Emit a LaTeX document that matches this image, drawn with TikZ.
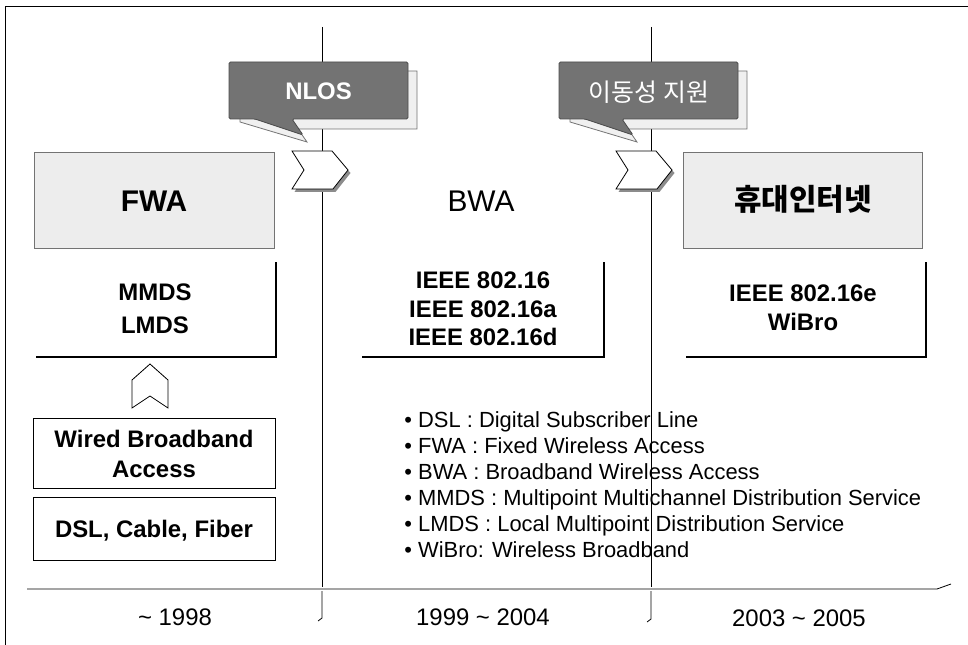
\documentclass[tikz,border=0pt]{standalone}
\usepackage{fontspec}
\setmainfont{Liberation Sans}
\newfontfamily\kr{Noto Sans CJK KR}
\newcommand\mycallout[1]{%
  \begin{scope}[shift={(#1,0)}]
    \draw[draw=black!55, fill=black!6] (240,71) -- (417,71) -- (417,129) -- (298,129) -- (307,142) -- (240,122) -- cycle;
    \draw[draw=black!70, fill=black!55, rounded corners=1.5bp] (229,62) -- (408,62) -- (408,119) -- (292,119) -- (303,135) -- (255,119) -- (229,119) -- cycle;
  \end{scope}}
\newcommand\mychev[2]{%
  \begin{scope}[shift={(#1,#2)}]
    \fill[black!45] (2.5,3) -- (42.5,3) -- (58.5,22) -- (43.5,41) -- (2.5,41) -- (14.5,22) -- cycle;
    \draw[fill=white] (0,0) -- (40,0) -- (56,19) -- (41,38) -- (0,38) -- (12,19) -- cycle;
  \end{scope}}
\begin{document}
\begin{tikzpicture}[x=1bp,y=-1bp,line width=0.8bp,
  lbl/.style={inner sep=0pt, anchor=base},
  btxt/.style={lbl, font=\fontsize{24}{28}\selectfont\bfseries},
  yr/.style={lbl, font=\fontsize{24}{28}\selectfont},
  legend/.style={inner sep=0pt, anchor=base west, font=\fontsize{22}{26}\selectfont},
  big/.style={lbl, font=\fontsize{30}{34}\selectfont},
  era/.style={draw=black!55, fill=black!7, inner sep=0pt, minimum height=96bp},
  plain/.style={draw=black, inner sep=0pt, minimum width=242bp}]
\useasboundingbox (0,0) rectangle (968,645);
% legend
\foreach \t [count=\i] in {{DSL : Digital Subscriber Line},{FWA : Fixed Wireless Access},{BWA : Broadband Wireless Access},{MMDS : Multipoint Multichannel Distribution Service},{LMDS : Local Multipoint Distribution Service},{WiBro: Wireless Broadband}}
  \node[legend] (leg\i) at (404,{427+26.1*(\i-1)}) {•\ \t};
% frame
\draw[line width=1bp] (5,645) -- (5,7) -- (968,7);
% timeline lines
\draw (322,27) -- (322,587);
\draw (651,27) -- (651,587);
\draw (322,591) -- (322,618) -- (318,621);
\draw (651,591) -- (651,619) -- (647,622);
\draw (27,589) -- (937,589) -- (951,584);
% callouts
\mycallout{0}
\mycallout{330}
\node[lbl, text=white, font=\fontsize{24}{28}\selectfont\bfseries] (nlos) at (318.5,100) {NLOS};
\node[lbl, text=white, font=\fontsize{25}{29}\selectfont\kr] (mob) at (649,101.5) {이동성 지원};
% chevrons
\mychev{292}{151}
\mychev{616}{151}
\draw (150,364) -- (168,380) -- (168,408) -- (150,396) -- (132,408) -- (132,380) -- cycle;
% era boxes
\node[era, minimum width=240bp] (fwabox) at (154,200) {};
\node[era, minimum width=239bp] (mobbox) at (802.5,200) {};
\node[big, font=\fontsize{30}{34}\selectfont\bfseries] (fwa) at (154,211.7) {FWA};
\node[big] (bwa) at (481,211.7) {BWA};
\node[lbl, font=\fontsize{30}{34}\selectfont\kr\bfseries] (mobi) at (803,211) {휴대인터넷};
% standards boxes
\draw[line width=1.2bp] (36,357) -- (276,357) -- (276,262);
\draw[line width=1.2bp] (362,357) -- (604,357) -- (604,262);
\draw[line width=1.2bp] (686,357) -- (926,357) -- (926,262);
\node[btxt] (mmds) at (155,300.5) {MMDS};
\node[btxt] (lmds) at (155,333) {LMDS};
\node[btxt] (i1) at (483,288.6) {IEEE 802.16};
\node[btxt] (i2) at (483,317) {IEEE 802.16a};
\node[btxt] (i3) at (483,345.5) {IEEE 802.16d};
\node[btxt] (i4) at (803,301) {IEEE 802.16e};
\node[btxt] (wib) at (803,330) {WiBro};
% wired boxes
\node[plain, minimum height=70bp] (wbox) at (154,453) {};
\node[plain, minimum height=63bp] (dbox) at (154,528.5) {};
\node[btxt] (w1) at (154,447) {Wired Broadband};
\node[btxt] (w2) at (154,477) {Access};
\node[btxt] (dsl) at (154,537) {DSL, Cable, Fiber};
% years
\node[yr] (y1) at (175,625) {\char`\~\ 1998};
\node[yr] (y2) at (483,625) {1999 \char`\~\ 2004};
\node[yr] (y3) at (799,626) {2003 \char`\~\ 2005};
\end{tikzpicture}
\end{document}
